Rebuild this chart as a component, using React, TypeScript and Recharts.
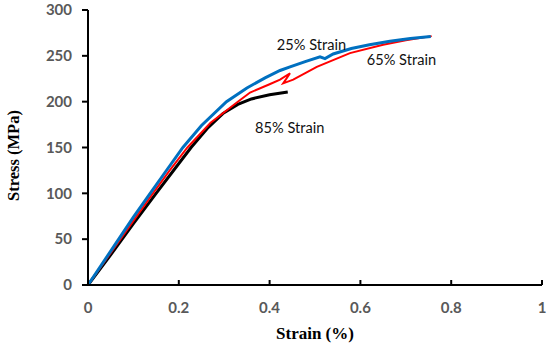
import React from "react";
import { LineChart, Line, XAxis, YAxis, ReferenceDot, Label } from "recharts";

const xTicks = [0, 0.2, 0.4, 0.6, 0.8, 1];
const yTicks = [0, 50, 100, 150, 200, 250, 300];

const strain25 = [0, 0.05, 0.1, 0.137, 0.17, 0.209, 0.25, 0.305, 0.35, 0.39, 0.423, 0.445, 0.48, 0.511, 0.522, 0.54, 0.58, 0.62, 0.665, 0.71, 0.755];
const stress25 = [0, 37, 74, 100, 123, 150, 174, 200, 215, 226, 234, 238, 244, 249, 247, 252, 258, 262, 266, 269, 271];

const strain65 = [0, 0.05, 0.1, 0.143, 0.18, 0.219, 0.27, 0.33, 0.357, 0.4, 0.423, 0.445, 0.43, 0.452, 0.504, 0.577, 0.65, 0.7, 0.757];
const stress65 = [0, 35, 70, 100, 125, 150, 177, 200, 210, 219, 224, 231, 220, 224, 238, 253, 262, 267, 271.5];

const strain85 = [0, 0.05, 0.1, 0.15, 0.19, 0.227, 0.265, 0.297, 0.33, 0.36, 0.4, 0.44];
const stress85 = [0, 33, 67, 100, 126, 150, 172, 187, 197, 203, 207.5, 210.5];

const labels = ["25% Strain", "65% Strain", "85% Strain"];
const labelX = [0.416, 0.614, 0.368];
const labelY = [256, 239.5, 166];

const toRows = (xs: number[], ys: number[]) => xs.map((x, i) => ({ x, y: ys[i] }));
const data25 = toRows(strain25, stress25);
const data65 = toRows(strain65, stress65);
const data85 = toRows(strain85, stress85);

const tickFont = { fontFamily: "Lato", fontWeight: 700, fontSize: 15, fill: "#595959" };

const XTick = (props: any) => {
  const { x, y, payload } = props;
  return (
    <g>
      <line x1={x} x2={x} y1={y} y2={y - 5} stroke="#000" strokeWidth={2} />
      <text x={x} y={y + 28} textAnchor="middle" {...tickFont}>
        {String(payload.value)}
      </text>
    </g>
  );
};

const annot = (text: string) => (p: any) => {
  const vb = p.viewBox || {};
  return (
    <text x={vb.x} y={vb.y} textAnchor="start" fontFamily="Lato" fontSize={14.6} fill="#111">
      {text}
    </text>
  );
};

export default function App() {
  return (
    <div style={{ position: "absolute", left: 0, top: 0, background: "#fff" }}>
      <LineChart width={550} height={347} margin={{ top: 10, right: 8, bottom: 0, left: 0 }}>
        <XAxis
          type="number"
          dataKey="x"
          domain={[0, 1]}
          ticks={xTicks}
          tickSize={0}
          tickMargin={0}
          tickLine={false}
          axisLine={{ stroke: "#000", strokeWidth: 2 }}
          tick={<XTick />}
          height={62}
          interval={0}
        >
          <Label
            content={(p: any) => {
              const vb = p.viewBox;
              return (
                <text x={vb.x + vb.width / 2} y={vb.y + 54} textAnchor="middle" fontFamily="Liberation Serif" fontWeight={700} fontSize={17} fill="#000">
                  Strain (%)
                </text>
              );
            }}
          />
        </XAxis>
        <YAxis
          type="number"
          domain={[0, 300]}
          ticks={yTicks}
          width={88}
          tickSize={6}
          tickMargin={10}
          interval={0}
          axisLine={{ stroke: "#000", strokeWidth: 2 }}
          tickLine={{ stroke: "#000", strokeWidth: 2 }}
          tick={tickFont}
        >
          <Label
            content={(p: any) => {
              const vb = p.viewBox;
              const cx = vb.x + 19;
              const cy = vb.y + vb.height / 2 + 8;
              return (
                <text x={cx} y={cy} transform={`rotate(-90 ${cx} ${cy})`} textAnchor="middle" fontFamily="Liberation Serif" fontWeight={700} fontSize={16.5} fill="#000">
                  Stress (MPa)
                </text>
              );
            }}
          />
        </YAxis>
        <Line data={data85} dataKey="y" type="linear" stroke="#000000" strokeWidth={3} dot={false} isAnimationActive={false} />
        <Line data={data65} dataKey="y" type="linear" stroke="#ff0000" strokeWidth={2} dot={false} isAnimationActive={false} />
        <Line data={data25} dataKey="y" type="linear" stroke="#0070c0" strokeWidth={3} dot={false} isAnimationActive={false} />
        {labels.map((t, i) => (
          <ReferenceDot key={t} x={labelX[i]} y={labelY[i]} r={0} stroke="none" fill="none" label={annot(t)} />
        ))}
      </LineChart>
    </div>
  );
}
